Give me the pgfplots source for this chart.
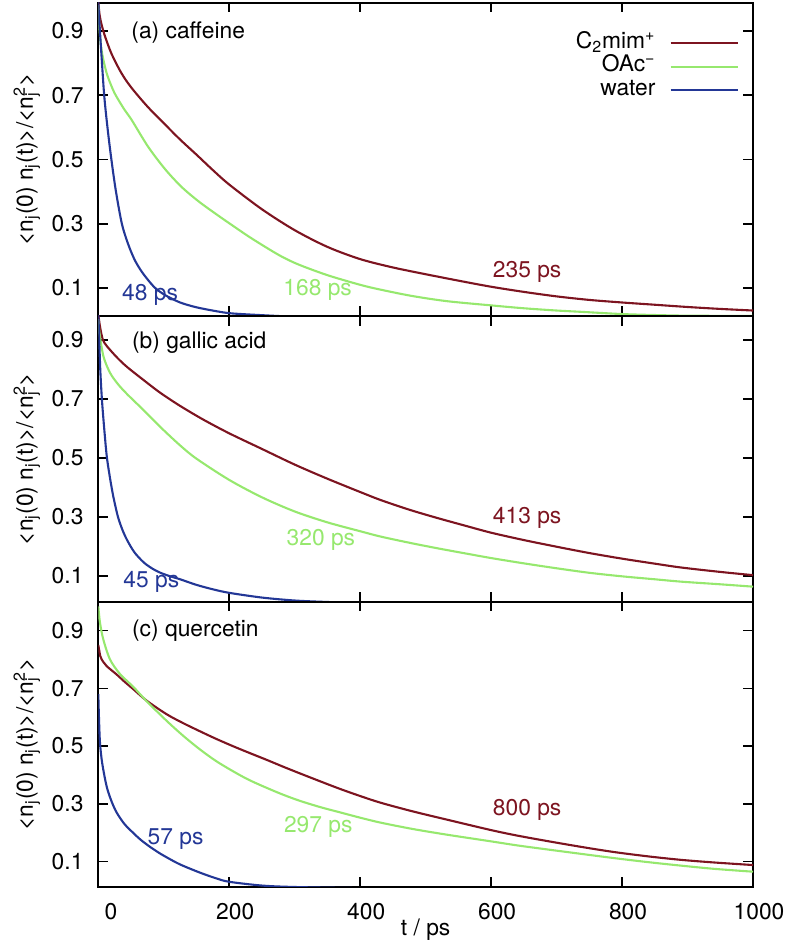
\documentclass[border=0pt]{standalone}
\usepackage{fontspec}
\setmainfont{TeX Gyre Heros}
\usepackage{pgfplots}
\pgfplotsset{compat=1.18}
\definecolor{cbrown}{RGB}{125,20,32}
\definecolor{cgreen}{RGB}{150,232,110}
\definecolor{cblue}{RGB}{35,55,150}

\pgfplotsset{
  panel/.style={
    scale only axis, width=327.35pt,
    xmin=0, xmax=1000,
    xtick={0,200,400,600,800,1000},
    ytick={0.1,0.3,0.5,0.7,0.9},
    tick align=inside, tick pos=both,
    major tick length=4.8pt,
    axis line style={line width=0.9pt},
    every tick/.style={black, line width=0.8pt},
    /pgf/number format/assume math mode=true,
    yticklabel style={/pgf/number format/fixed, /pgf/number format/fixed zerofill, /pgf/number format/precision=1, xshift=-3.9pt},
    xticklabel style={yshift=-4.4pt, xshift=3pt},
    every axis y label/.style={at={([xshift=-35.7pt]rel axis cs:0,0.5)}, anchor=center, rotate=90},
    ylabel={<n\textsubscript{j}(0) n\textsubscript{j}(t)>/<n\rlap{\textsubscript{j}}\textsuperscript{2}>},
    every axis plot/.append style={line width=1.05pt, smooth, tension=0.5},
  }
}

\begin{document}
\begin{tikzpicture}[font=\fontsize{11.4}{13.7}\selectfont]
\path[use as bounding box] (-49.15pt,-29pt) rectangle (342.85pt,443.5pt);

% ---------- panel (a) caffeine ----------
\begin{axis}[panel, at={(0pt,285.5pt)}, anchor=south west, height=156.65pt,
  ymin=0.013, ymax=0.988, xticklabels={},
  legend cell align=right, legend plot pos=right,
  legend image code/.code={\draw[#1, sharp plot] (0pt,0pt) -- (33.5pt,0pt);},
  legend style={draw=none, fill=none, at={(rel axis cs:1,1)}, anchor=north east,
    xshift=-7pt, yshift=-14.3pt, inner sep=0pt, column sep=7pt,
    nodes={inner sep=0pt, text height=8.3pt, text depth=3.45pt}},
]
\addplot[cbrown] coordinates {(0,0.99)(2,0.95)(5,0.92)(10,0.885)(20,0.83)(35,0.77)(50,0.725)(75,0.665)(100,0.613)(125,0.562)(150,0.515)(175,0.467)(200,0.422)(250,0.345)(300,0.28)(350,0.228)(400,0.19)(450,0.164)(500,0.143)(550,0.123)(600,0.104)(650,0.088)(700,0.074)(750,0.063)(800,0.055)(850,0.048)(900,0.041)(950,0.035)(1000,0.03)};
\addlegendentry{C\textsubscript{2}mim\textsuperscript{+}}
\addplot[cgreen] coordinates {(0,0.98)(2,0.90)(5,0.84)(10,0.79)(15,0.755)(25,0.706)(40,0.655)(51,0.623)(76,0.54)(102,0.47)(127,0.415)(153,0.37)(180,0.33)(204,0.296)(230,0.26)(255,0.228)(280,0.198)(306,0.173)(350,0.14)(400,0.11)(431,0.095)(480,0.075)(533,0.059)(600,0.046)(650,0.037)(700,0.03)(737,0.026)(800,0.019)(850,0.016)(900,0.014)(1000,0.013)};
\addlegendentry{OAc\textsuperscript{−}}
\addplot[cblue] coordinates {(0,0.99)(1,0.95)(2.5,0.9)(5,0.82)(9,0.7)(14,0.6)(20,0.5)(27,0.4)(36,0.3)(45,0.24)(55,0.19)(65,0.155)(76,0.125)(87,0.1)(102,0.078)(125,0.055)(150,0.04)(180,0.028)(204,0.021)(255,0.015)(300,0.011)(400,0.007)(600,0.004)(1000,0.0)};
\addlegendentry{water}
\node[anchor=west, inner sep=0pt] at (axis cs:50,0.895) {(a) caffeine};
\node[cblue] at (axis cs:79,0.078) {48 ps};
\node[cgreen] at (axis cs:335,0.093) {168 ps};
\node[cbrown] at (axis cs:655,0.149) {235 ps};
\end{axis}

% ---------- panel (b) gallic acid ----------
\begin{axis}[panel, at={(0pt,142.65pt)}, anchor=south west, height=142.85pt,
  ymin=0.012, ymax=0.981, xticklabels={}]
\addplot[cbrown] coordinates {(0,0.985)(3,0.94)(7,0.9)(12,0.882)(18,0.866)(30,0.837)(44,0.808)(69,0.764)(95,0.72)(125,0.676)(160,0.63)(200,0.583)(250,0.53)(300,0.477)(350,0.429)(400,0.384)(431,0.357)(475,0.324)(516,0.297)(560,0.27)(600,0.246)(650,0.221)(701,0.198)(750,0.177)(800,0.158)(850,0.141)(890,0.128)(950,0.113)(1000,0.102)};
\addplot[cgreen] coordinates {(0,0.97)(2,0.92)(8,0.843)(18,0.788)(30,0.75)(44,0.716)(69,0.662)(95,0.604)(125,0.542)(150,0.497)(200,0.425)(250,0.366)(300,0.318)(350,0.281)(400,0.251)(431,0.233)(475,0.212)(516,0.194)(560,0.176)(600,0.16)(650,0.142)(701,0.125)(750,0.11)(800,0.098)(850,0.088)(890,0.08)(950,0.071)(1000,0.063)};
\addplot[cblue] coordinates {(0,0.985)(1,0.93)(3,0.8)(5.6,0.696)(9,0.6)(13,0.504)(18,0.43)(23,0.368)(30,0.3)(37,0.255)(44,0.221)(55,0.18)(69,0.146)(82,0.125)(95,0.11)(110,0.098)(125,0.088)(150,0.069)(175,0.054)(200,0.042)(250,0.026)(300,0.016)(350,0.011)(400,0.008)(600,0.004)(1000,0.0)};
\node[anchor=west, inner sep=0pt] at (axis cs:51,0.889) {(b) gallic acid};
\node[cblue] at (axis cs:81,0.08) {45 ps};
\node[cgreen] at (axis cs:340,0.22) {320 ps};
\node[cbrown] at (axis cs:655,0.295) {413 ps};
\end{axis}

% ---------- panel (c) quercetin ----------
\begin{axis}[panel, at={(0pt,0pt)}, anchor=south west, height=142.65pt,
  ymin=0.012, ymax=1.0,
  xticklabels={{\hspace*{6.7pt}0},200,400,600,800,1000},
  xlabel={t / ps},
  every axis x label/.style={at={([yshift=-21.5pt]rel axis cs:0.5,0)}, anchor=center},
]
\addplot[cbrown] coordinates {(0,0.85)(1.5,0.83)(3,0.812)(5.2,0.8)(12.8,0.777)(28,0.748)(40,0.723)(53.5,0.697)(74,0.657)(104.6,0.61)(130,0.579)(155.5,0.551)(180,0.525)(206.4,0.499)(230,0.477)(257.5,0.452)(283,0.428)(308.4,0.405)(340,0.377)(370,0.351)(400,0.327)(431,0.304)(480,0.274)(533,0.245)(600,0.209)(640,0.19)(686,0.171)(740,0.15)(788,0.133)(840,0.118)(890,0.106)(940,0.097)(1000,0.088)};
\addplot[cgreen] coordinates {(0,0.984)(2.6,0.927)(7.7,0.869)(17.9,0.80)(33,0.75)(53.5,0.705)(74,0.655)(104.6,0.587)(130,0.535)(155.5,0.488)(180,0.448)(206.4,0.412)(230,0.383)(257.5,0.355)(283,0.331)(308.4,0.31)(340,0.288)(370,0.27)(400,0.252)(431,0.235)(480,0.213)(533,0.193)(600,0.17)(640,0.156)(686,0.142)(740,0.126)(788,0.112)(840,0.098)(890,0.086)(940,0.075)(1000,0.065)};
\addplot[cblue] coordinates {(0,0.68)(1,0.6)(2.6,0.511)(6,0.44)(12.8,0.36)(20,0.31)(28,0.27)(40,0.23)(53.5,0.199)(65,0.175)(79,0.151)(95,0.127)(105,0.114)(125,0.09)(155,0.062)(180,0.042)(200,0.03)(250,0.017)(300,0.012)(400,0.008)(600,0.004)(1000,0.0)};
\node[anchor=west, inner sep=0pt] at (axis cs:51,0.9) {(c) quercetin};
\node[cblue] at (axis cs:118,0.179) {57 ps};
\node[cgreen] at (axis cs:336,0.22) {297 ps};
\node[cbrown] at (axis cs:655,0.279) {800 ps};
\end{axis}
\end{tikzpicture}
\end{document}
